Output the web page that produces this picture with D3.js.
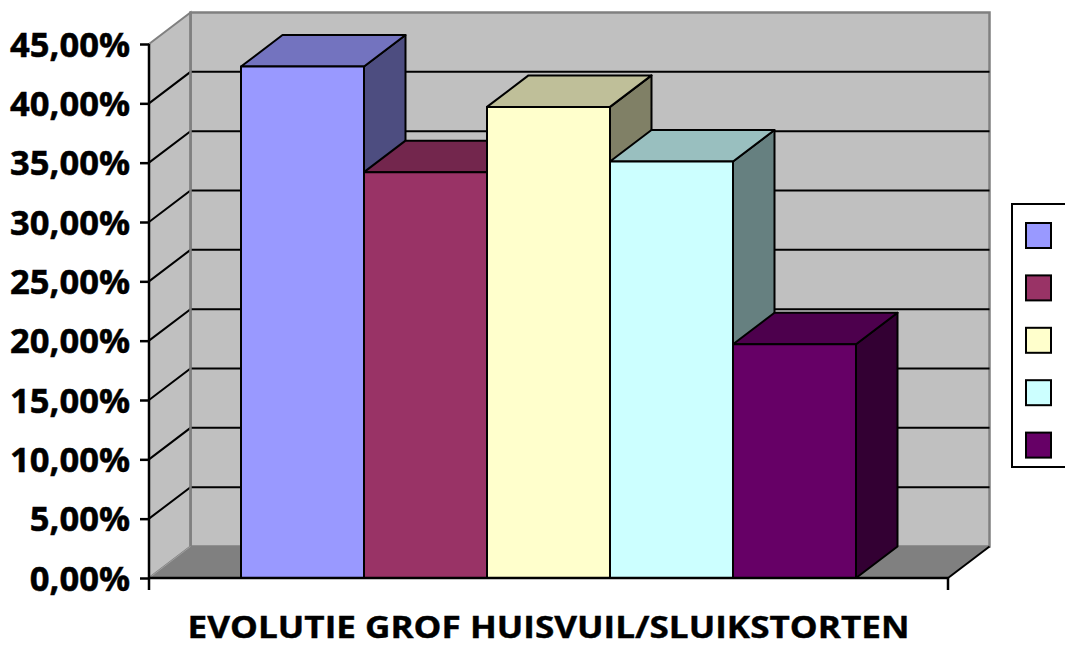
<!DOCTYPE html>
<html><head><meta charset="utf-8">
<script src="https://cdn.jsdelivr.net/npm/d3@7"></script>
<style>html,body{margin:0;padding:0;background:#fff;}svg{display:block;}</style>
</head><body>
<script>
const categories = ["EVOLUTIE GROF HUISVUIL/SLUIKSTORTEN"];
const seriesNames = ["Reeks1", "Reeks2", "Reeks3", "Reeks4", "Reeks5"];
const seriesValues = [0.431, 0.342, 0.397, 0.351, 0.197];
const seriesColors = ["#9999FF", "#993366", "#FFFFCC", "#CCFFFF", "#660066"];
const tickValues = [0, 0.05, 0.10, 0.15, 0.20, 0.25, 0.30, 0.35, 0.40, 0.45];
const tickLabels = ["0,00%", "5,00%", "10,00%", "15,00%", "20,00%", "25,00%", "30,00%", "35,00%", "40,00%", "45,00%"];

const W = 1065, H = 649;
const DX = 41.5, DY = -31.5;
const FONT = "'Open Sans', 'Noto Sans', sans-serif";
const svg = d3.select("body").append("svg").attr("width", W).attr("height", H);

const y = d3.scaleLinear().domain([0, 0.45]).range([578, 44]);
const xCat = d3.scaleBand().domain(categories).range([149, 948]).paddingInner(0).paddingOuter(0.1496);
const xSer = d3.scaleBand().domain(seriesNames).range([0, xCat.bandwidth()]).padding(0);
const x0 = 149, x1 = 948, yb = y(0), yt = y(0.45);

const shade = (c, k) => { const r = d3.rgb(c); return d3.rgb(r.r * k, r.g * k, r.b * k).formatHex(); };
const poly = pts => "M" + pts.map(p => p.join(",")).join("L") + "Z";

// back wall
svg.append("path").attr("d", poly([[x0 + DX, yt + DY], [x1 + DX, yt + DY], [x1 + DX, yb + DY], [x0 + DX, yb + DY]]))
  .attr("fill", "#C0C0C0").attr("stroke", "#808080").attr("stroke-width", 2.5);
// left wall
svg.append("path").attr("d", poly([[x0, yt], [x0 + DX, yt + DY], [x0 + DX, yb + DY], [x0, yb]]))
  .attr("fill", "#C0C0C0").attr("stroke", "#808080").attr("stroke-width", 2);
// gridlines
const gv = tickValues.filter(v => v > 0 && v < 0.45);
svg.append("g").selectAll("path").data(gv).join("path")
  .attr("d", v => `M${x0},${y(v)}L${x0 + DX},${y(v) + DY}L${x1 + DX},${y(v) + DY}`)
  .attr("fill", "none").attr("stroke", "#000").attr("stroke-width", 2);
svg.append("line").attr("x1", x0 + DX).attr("x2", x0 + DX).attr("y1", yt + DY).attr("y2", yb + DY)
  .attr("stroke", "#808080").attr("stroke-width", 2.5);
// floor
svg.append("path").attr("d", poly([[x0, yb], [x1, yb], [x1 + DX, yb + DY], [x0 + DX, yb + DY]]))
  .attr("fill", "#808080").attr("stroke", "none");
svg.append("line").attr("x1", x0).attr("y1", yb).attr("x2", x0 + DX).attr("y2", yb + DY).attr("stroke", "#A0A0A0").attr("stroke-width", 1);
svg.append("line").attr("x1", x1).attr("y1", yb).attr("x2", x1 + DX).attr("y2", yb + DY).attr("stroke", "#000").attr("stroke-width", 2);

// bars
const bars = seriesNames.map((s, i) => ({ s, v: seriesValues[i], c: seriesColors[i] }));
const bg = svg.append("g");
bars.forEach(d => {
  const bx0 = xCat(categories[0]) + xSer(d.s), bx1 = bx0 + xSer.bandwidth();
  const top = y(d.v);
  const g = bg.append("g").attr("stroke", "#000").attr("stroke-width", 2).attr("stroke-linejoin", "round");
  g.append("path").attr("d", poly([[bx1, top], [bx1 + DX, top + DY], [bx1 + DX, yb + DY], [bx1, yb]])).attr("fill", shade(d.c, 0.5));
  g.append("path").attr("d", poly([[bx0, top], [bx1, top], [bx1 + DX, top + DY], [bx0 + DX, top + DY]])).attr("fill", shade(d.c, 0.75));
  g.append("path").attr("d", poly([[bx0, top], [bx1, top], [bx1, yb], [bx0, yb]])).attr("fill", d.c);
});

// front floor edge / axis
svg.append("line").attr("x1", x0).attr("x2", x1).attr("y1", yb).attr("y2", yb).attr("stroke", "#000").attr("stroke-width", 2.5);
svg.append("line").attr("x1", x0).attr("x2", x0).attr("y1", yt).attr("y2", yb + 12).attr("stroke", "#000").attr("stroke-width", 2.5);
svg.append("line").attr("x1", x1).attr("x2", x1).attr("y1", yb).attr("y2", yb + 12).attr("stroke", "#000").attr("stroke-width", 2.5);

// y axis ticks and labels
const ax = svg.append("g").attr("transform", `translate(${x0},0)`)
  .call(d3.axisLeft(y).tickValues(tickValues).tickSize(9).tickPadding(10).tickFormat((d, i) => tickLabels[i]));
ax.select(".domain").remove();
ax.selectAll(".tick line").attr("stroke", "#000").attr("stroke-width", 2.5);
ax.selectAll(".tick text").attr("font-family", FONT).attr("font-weight", 700)
  .attr("font-size", 34).attr("fill", "#000").attr("stroke", "#000").attr("stroke-width", 0.5)
  .attr("x", 0).attr("dy", "0.36em");
let refW = 0;
ax.selectAll(".tick text").each(function () { if (this.textContent === "20,00%") refW = this.getBBox().width; });
const k = 120 / refW;
ax.selectAll(".tick text").attr("transform", `translate(-19,0) scale(${k},1)`);

// category title
const title = svg.append("text").attr("x", 0).attr("y", 0)
  .attr("text-anchor", "middle").attr("font-family", FONT).attr("font-weight", 700)
  .attr("font-size", 31).attr("fill", "#000").attr("stroke", "#000").attr("stroke-width", 0.4)
  .text(categories[0]);
const tw = title.node().getBBox().width;
title.attr("transform", `translate(${xCat(categories[0]) + xCat.bandwidth() / 2},638) scale(${722 / tw},1)`);

// legend
const lg = svg.append("g");
lg.append("rect").attr("x", 1012).attr("y", 204).attr("width", 70).attr("height", 263)
  .attr("fill", "#fff").attr("stroke", "#000").attr("stroke-width", 2);
lg.selectAll("rect.sw").data(bars).join("rect").attr("class", "sw")
  .attr("x", 1026).attr("y", (d, i) => 223 + i * 52.4).attr("width", 25).attr("height", 25)
  .attr("fill", d => d.c).attr("stroke", "#000").attr("stroke-width", 2);
</script>
</body></html>
